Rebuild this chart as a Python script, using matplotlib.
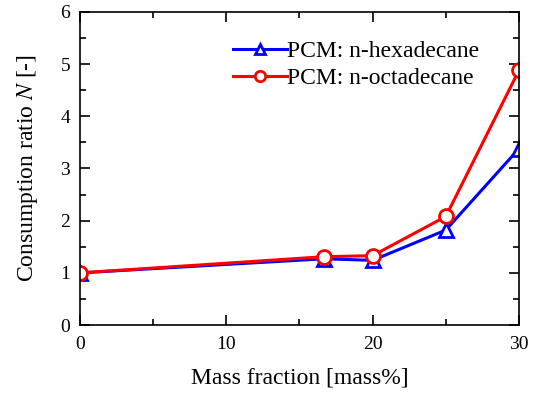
import matplotlib
matplotlib.use("Agg")
import matplotlib.pyplot as plt
from matplotlib.ticker import MultipleLocator

plt.rcParams['font.family'] = ['Liberation Serif', 'DejaVu Serif']
plt.rcParams['mathtext.fontset'] = 'stix'

mass_fraction = [0, 16.7, 20, 25, 30]
n_hexadecane = [1.0, 1.27, 1.24, 1.82, 3.38]
n_octadecane = [1.0, 1.31, 1.33, 2.08, 4.88]

fig = plt.figure(figsize=(5.35, 3.95), dpi=100)
ax = fig.add_axes([0.1495, 0.177, 0.8205, 0.793])

ax.plot(mass_fraction, n_hexadecane, color='blue', lw=2.2, marker='^', ms=10,
        mfc='white', mec='blue', mew=2, label='PCM: n-hexadecane')
ax.plot(mass_fraction, n_octadecane, color='red', lw=2.2, marker='o', ms=10,
        mfc='white', mec='red', mew=2, label='PCM: n-octadecane')

ax.set_xlim(0, 30)
ax.set_ylim(0, 6)
ax.xaxis.set_major_locator(MultipleLocator(10))
ax.xaxis.set_minor_locator(MultipleLocator(5))
ax.yaxis.set_major_locator(MultipleLocator(1))
ax.yaxis.set_minor_locator(MultipleLocator(0.5))
ax.tick_params(which='both', direction='in', top=True, right=True, labelsize=14, width=1.2)
ax.tick_params(which='major', length=7)
ax.tick_params(which='minor', length=4)
ax.tick_params(axis='x', which='major', pad=8)
ax.tick_params(axis='y', which='major', pad=7)
for s in ax.spines.values():
    s.set_linewidth(1.2)

ax.set_xlabel('Mass fraction [mass%]', fontsize=17, labelpad=10)
ax.set_ylabel('Consumption ratio $N$ [-]', fontsize=17, labelpad=15)
ax.legend(loc='upper left', bbox_to_anchor=(0.348, 0.909), frameon=False, fontsize=17,
          handlelength=2.3, handletextpad=0.0, borderaxespad=0, borderpad=0,
          labelspacing=0.23, markerscale=0.75)

fig.savefig('out.png', dpi=100)
